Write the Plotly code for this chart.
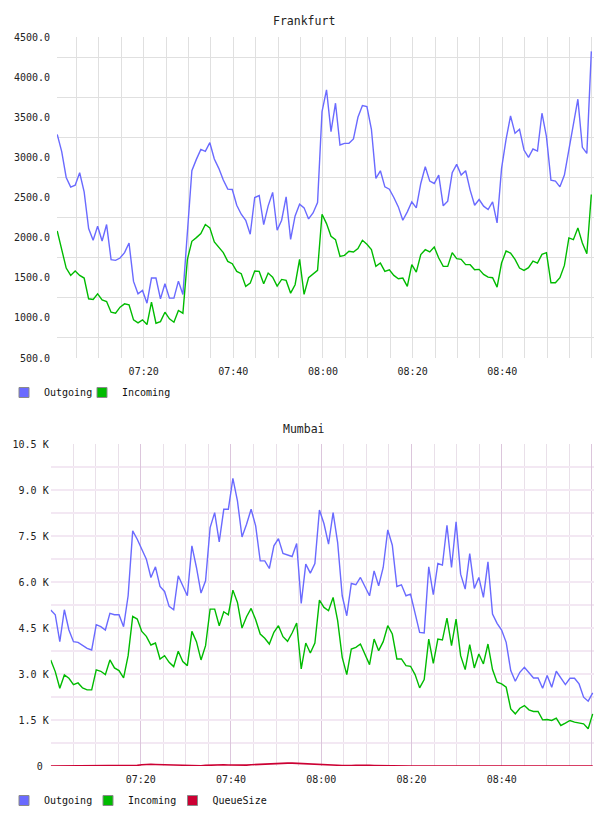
import plotly.graph_objects as go
import pandas as pd

# ---------------- data ----------------
fra_out = [3287, 3071, 2750, 2629, 2654, 2808, 2571, 2113, 1967, 2142, 1958, 2163, 1725, 1717, 1746, 1813, 1933, 1454, 1300, 1342,
           1183, 1496, 1496, 1237, 1425, 1246, 1246, 1458, 1292, 2092, 2833, 2975, 3100, 3075, 3183, 2979, 2863, 2717, 2604, 2600,
           2404, 2292, 2217, 2042, 2500, 2525, 2163, 2396, 2563, 2092, 2217, 2508, 1979, 2271, 2417, 2371, 2233, 2308, 2438, 3571,
           3842, 3321, 3675, 3154, 3175, 3175, 3229, 3500, 3646, 3633, 3350, 2738, 2833, 2633, 2604, 2500, 2383, 2217, 2321, 2446,
           2371, 2675, 2883, 2704, 2675, 2779, 2396, 2454, 2808, 2913, 2779, 2833, 2592, 2404, 2475, 2392, 2350, 2446, 2183, 2863,
           3225, 3517, 3300, 3350, 3092, 3000, 3104, 3079, 3550, 3258, 2717, 2704, 2633, 2779, 3092, 3425, 3725, 3125, 3050, 4321]
fra_in = [2083, 1862, 1621, 1529, 1583, 1529, 1496, 1238, 1229, 1300, 1225, 1204, 1071, 1058, 1133, 1175, 1163, 975, 938, 975,
          917, 1196, 933, 954, 1071, 988, 946, 1092, 1058, 1729, 1954, 2000, 2050, 2163, 2121, 1946, 1875, 1813, 1704, 1675,
          1579, 1550, 1392, 1433, 1583, 1579, 1425, 1558, 1508, 1396, 1479, 1467, 1308, 1413, 1729, 1292, 1500, 1550, 1592, 2292,
          2175, 2017, 1975, 1767, 1779, 1829, 1821, 1863, 1967, 1917, 1850, 1642, 1683, 1579, 1600, 1529, 1488, 1496, 1392, 1663,
          1571, 1788, 1850, 1821, 1883, 1746, 1642, 1642, 1813, 1738, 1729, 1663, 1663, 1600, 1604, 1542, 1508, 1500, 1383, 1683,
          1833, 1808, 1729, 1621, 1592, 1625, 1708, 1683, 1792, 1813, 1438, 1438, 1500, 1654, 1996, 1975, 2121, 1933, 1800, 2538]

mum_out = [5085, 4933, 4054, 5095, 4434, 4054, 4033, 3924, 3837, 3783, 4607, 4542, 4434, 4976, 4933, 4933, 4542, 5551, 7666, 7395,
           7069, 6744, 6148, 6495, 5855, 5692, 5204, 5095, 6202, 5876, 5551, 7178, 6473, 5638, 6039, 7774, 8262, 7308, 8371, 8371,
           9380, 8642, 7471, 7883, 8371, 7829, 6690, 6690, 6440, 7178, 7416, 6928, 6885, 6831, 7254, 5302, 6581, 6288, 6603, 8349,
           7900, 7232, 8262, 7286, 5551, 4900, 5952, 5909, 6148, 5855, 5551, 6364, 5876, 6473, 7698, 7200, 5855, 5909, 5551, 5605,
           4976, 4358, 4336, 6495, 5584, 6603, 6549, 7850, 6473, 7959, 6256, 5768, 6928, 5790, 6148, 5497, 6657, 4954, 4651, 4434,
           4033, 3111, 2764, 3056, 3219, 3035, 2872, 2872, 2536, 2948, 2568, 3089, 2861, 2655, 2861, 2861, 2677, 2243, 2113, 2384]
mum_in = [3458, 3078, 2536, 2970, 2861, 2655, 2709, 2547, 2482, 2482, 3132, 3089, 2980, 3458, 3197, 3111, 2872, 3599, 4879, 4792,
          4390, 4228, 3946, 4011, 3490, 3599, 3382, 3241, 3740, 3403, 3273, 4390, 4054, 3458, 3924, 5117, 5117, 4575, 5030, 4933,
          5735, 5334, 4499, 4868, 5139, 4770, 4304, 4163, 3978, 4358, 4575, 4217, 4065, 4336, 4662, 3165, 4011, 3685, 4011, 5410,
          5171, 5063, 5497, 4738, 3544, 2980, 3816, 3870, 3978, 3631, 3306, 4141, 3761, 4054, 4575, 4304, 3490, 3490, 3273, 3252,
          2980, 2547, 2818, 4141, 3349, 4141, 4108, 4824, 3924, 4792, 3599, 3143, 3957, 3197, 3653, 3328, 3978, 3143, 2731, 2677,
          2568, 1863, 1701, 1885, 1972, 1831, 1777, 1777, 1505, 1516, 1484, 1560, 1321, 1397, 1484, 1429, 1397, 1375, 1213, 1701]
mum_queue = [0, 0, 0, 0, 0, 0, 0, 0, 0, 0, 0, 0, 0, 0, 0, 0, 0, 0, 0, 20,
             40, 55, 55, 50, 45, 35, 30, 25, 20, 15, 10, 10, 5, 10, 20, 30, 35, 40, 40, 35,
             30, 25, 20, 30, 40, 50, 60, 70, 80, 85, 90, 90, 95, 95, 90, 85, 80, 75, 70, 60,
             55, 45, 35, 25, 15, 10, 15, 25, 30, 25, 20, 15, 10, 5, 5, 0, 0, 0, 0, 0,
             0, 0, 0, 0, 0, 0, 0, 0, 5, 10, 10, 5, 0, 0, 0, 0, 0, 0, 0, 0,
             5, 10, 10, 5, 0, 0, 0, 0, 0, 0, 0, 0, 0, 0, 0, 0, 0, 0, 0, 0]

fra_time = pd.date_range("2024-01-01 07:00:43", "2024-01-01 08:59:52", periods=len(fra_out))
mum_time = pd.date_range("2024-01-01 07:00:03", "2024-01-01 09:00:10", periods=len(mum_out))

fra_range = ["2024-01-01 07:00:40", "2024-01-01 09:00:21"]
mum_range = ["2024-01-01 07:00:03", "2024-01-01 09:00:23"]

fra_yticks = [500, 1000, 1500, 2000, 2500, 3000, 3500, 4000, 4500]
fra_ytext = ["500.0", "1000.0", "1500.0", "2000.0", "2500.0", "3000.0", "3500.0", "4000.0", "4500.0"]
fra_ygrid = [750, 1250, 1750, 2250, 2750, 3250, 3750, 4250]

mum_yticks = [0, 1500, 3000, 4500, 6000, 7500, 9000, 10500]
mum_ytext = ["0\u00a0", "1.5 K", "3.0 K", "4.5 K", "6.0 K", "7.5 K", "9.0 K", "10.5 K"]

fra_xticks = ["2024-01-01 07:20", "2024-01-01 07:40", "2024-01-01 08:00", "2024-01-01 08:20", "2024-01-01 08:40"]
fra_xtext = ["07:20", "07:40", "08:00", "08:20", "08:40"]
mum_xticks = ["2024-01-01 07:00", "2024-01-01 07:20", "2024-01-01 07:40", "2024-01-01 08:00",
              "2024-01-01 08:20", "2024-01-01 08:40", "2024-01-01 09:00"]
mum_xtext = ["", "07:20", "07:40", "08:00", "08:20", "08:40", ""]

C_OUT = "#6a6aff"
C_IN = "#00bb00"
C_Q = "#cc0033"
MONO = "DejaVu Sans Mono"

W, H = 608, 816

def px_x(a, b):
    return [a / W, b / W]

def px_y(top, bottom):
    return [1 - bottom / H, 1 - top / H]

fig = go.Figure()

# Frankfurt lines
fig.add_trace(go.Scatter(x=fra_time, y=fra_out, mode="lines", line=dict(color=C_OUT, width=1.4),
                         showlegend=False, xaxis="x", yaxis="y"))
fig.add_trace(go.Scatter(x=fra_time, y=fra_in, mode="lines", line=dict(color=C_IN, width=1.4),
                         showlegend=False, xaxis="x", yaxis="y"))
# Mumbai lines
fig.add_trace(go.Scatter(x=mum_time, y=mum_out, mode="lines", line=dict(color=C_OUT, width=1.4),
                         showlegend=False, xaxis="x2", yaxis="y2"))
fig.add_trace(go.Scatter(x=mum_time, y=mum_in, mode="lines", line=dict(color=C_IN, width=1.4),
                         showlegend=False, xaxis="x2", yaxis="y2"))
fig.add_trace(go.Scatter(x=mum_time, y=mum_queue, mode="lines", line=dict(color=C_Q, width=1.6),
                         showlegend=False, xaxis="x2", yaxis="y2"))

# legend entries (square swatches), one small legend per entry
legend_items = [
    # name, colour, legend id, axes, left px, centre y px
    ("Outgoing", C_OUT, "legend", "x", "y", 4, 392.5),
    ("Incoming", C_IN, "legend3", "x", "y", 82, 392.5),
    ("Outgoing", C_OUT, "legend2", "x2", "y2", 4, 800.5),
    ("Incoming", C_IN, "legend4", "x2", "y2", 88, 800.5),
    ("QueueSize", C_Q, "legend5", "x2", "y2", 172.5, 800.5),
]

legend_layout = {}
for name, color, lg, xa, ya, lx, ly in legend_items:
    fig.add_trace(go.Scatter(x=[None], y=[None], mode="markers", name=name, legend=lg,
                             marker=dict(symbol="square", size=10, color=color,
                                         line=dict(color="#8a8a8a", width=1)),
                             xaxis=xa, yaxis=ya))
    legend_layout[lg] = dict(orientation="h", xref="container", yref="container",
                             x=lx / W, xanchor="left", y=1 - ly / H, yanchor="middle",
                             font=dict(family=MONO, size=10, color="#111111"),
                             bgcolor="rgba(0,0,0,0)", itemclick=False, itemdoubleclick=False)

tickfont = dict(family=MONO, size=10, color="#222222")
GRID1 = "#e0e0e0"

fig.update_layout(
    width=W, height=H, autosize=False,
    margin=dict(l=0, r=0, t=0, b=0, autoexpand=False),
    paper_bgcolor="white", plot_bgcolor="white",
    xaxis=dict(domain=px_x(57, 593.5), anchor="y", type="date", range=fra_range,
               tickmode="array", tickvals=fra_xticks, ticktext=fra_xtext, tickfont=tickfont,
               showgrid=True, gridcolor=GRID1, gridwidth=1, zeroline=False, showline=False, ticks="",
               ticklabelstandoff=6,
               minor=dict(dtick=300000, tick0="2024-01-01 07:00:00", showgrid=True, gridcolor=GRID1, gridwidth=1)),
    yaxis=dict(domain=px_y(37, 358), anchor="x", range=[500, 4500],
               tickmode="array", tickvals=fra_yticks, ticktext=fra_ytext, tickfont=tickfont,
               showgrid=False, zeroline=False, showline=False, ticks="", ticklabelstandoff=6,
               minor=dict(tickmode="array", tickvals=fra_ygrid, showgrid=True, gridcolor=GRID1, gridwidth=1)),
    xaxis2=dict(domain=px_x(50.7, 593.7), anchor="y2", type="date", range=mum_range,
                tickmode="array", tickvals=mum_xticks, ticktext=mum_xtext, tickfont=tickfont,
                showgrid=True, gridcolor="#dcc6dc", gridwidth=1, zeroline=False, showline=False, ticks="",
                ticklabelstandoff=6,
                minor=dict(dtick=300000, tick0="2024-01-01 07:00:00", showgrid=True, gridcolor="#e9e0e9", gridwidth=1)),
    yaxis2=dict(domain=px_y(444, 766), anchor="x2", range=[0, 10500],
                tickmode="array", tickvals=mum_yticks, ticktext=mum_ytext, tickfont=tickfont,
                showgrid=True, gridcolor="#f3e8f3", gridwidth=2, zeroline=False, showline=False, ticks="",
                ticklabelstandoff=1,
                minor=dict(dtick=750, tick0=0, showgrid=True, gridcolor="#f3e8f3", gridwidth=2)),
    annotations=[
        dict(text="Frankfurt", x=0.5, y=1 - 20.5 / H, xref="paper", yref="paper", showarrow=False,
             xanchor="center", yanchor="middle", font=dict(family=MONO, size=11.5, color="#222222")),
        dict(text="Mumbai", x=0.5, y=1 - 428.5 / H, xref="paper", yref="paper", showarrow=False,
             xanchor="center", yanchor="middle", font=dict(family=MONO, size=11.5, color="#222222")),
    ],
    **legend_layout,
)

fig.write_html("out.html")
